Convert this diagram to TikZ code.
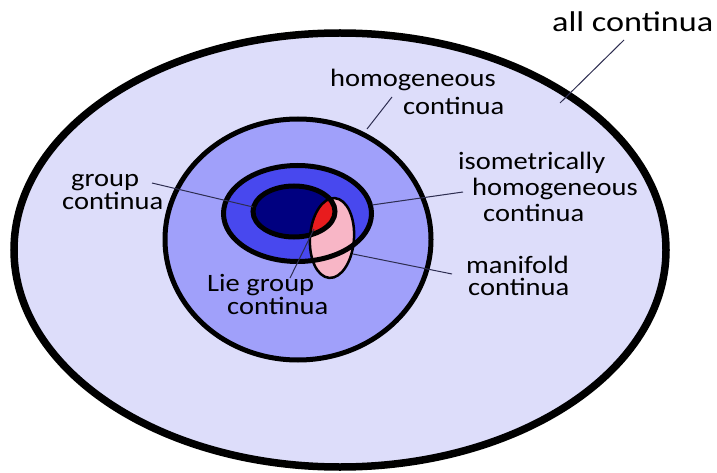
\documentclass[tikz,border=0pt]{standalone}
\usepackage{fontspec}
\setmainfont[FakeStretch=1.14]{Carlito}
\newfontfamily\bigfont[FakeStretch=1.2]{Carlito}
\definecolor{outerfill}{RGB}{221,221,250}
\definecolor{homfill}{RGB}{160,160,250}
\definecolor{isofill}{RGB}{72,72,238}
\definecolor{grpfill}{RGB}{0,0,128}
\definecolor{manfill}{RGB}{248,182,198}
\definecolor{liefill}{RGB}{232,28,30}
\definecolor{leadcol}{RGB}{45,45,80}
\tikzset{
  ring/.style={draw=black, line width=5pt},
  thinring/.style={draw=black, line width=2.5pt},
  lbl/.style={inner sep=0pt, align=left, text=black, font=\fontsize{25}{28}\selectfont},
  leader/.style={draw=leadcol, line width=1pt}
}
\begin{document}
\begin{tikzpicture}[x=1pt,y=-1pt]
\useasboundingbox (0,0) rectangle (717,473);
\fill[white] (0,0) rectangle (717,473);
% all continua
\path[fill=outerfill, draw=black, line width=7.5pt] (340,250) ellipse [x radius=326pt, y radius=217pt];
% fills
\fill[homfill] (298,239.5) ellipse [x radius=133pt, y radius=120.5pt];
\fill[isofill] (297.5,213.5) ellipse [x radius=74pt, y radius=48pt];
\fill[grpfill] (294,211.5) ellipse [x radius=41pt, y radius=25.5pt];
\fill[manfill, rotate around={-4:(332,238)}] (332,238) ellipse [x radius=22pt, y radius=40pt];
\begin{scope}
  \clip (294,211.5) ellipse [x radius=41pt, y radius=25.5pt];
  \fill[liefill, rotate around={-4:(332,238)}] (332,238) ellipse [x radius=22pt, y radius=40pt];
\end{scope}
% outlines
\path[ring] (298,239.5) ellipse [x radius=133pt, y radius=120.5pt];
\path[ring] (297.5,213.5) ellipse [x radius=74pt, y radius=48pt];
\path[ring] (294,211.5) ellipse [x radius=41pt, y radius=25.5pt];
\path[thinring, rotate around={-4:(332,238)}] (332,238) ellipse [x radius=22pt, y radius=40pt];
% labels (anchor = baseline of last line)
\node[lbl, anchor=base west, font=\bigfont\fontsize{28.5}{30}\selectfont] (lAll) at (552,32) {all continua};
\node[lbl, anchor=base west, font=\fontsize{25}{28}\selectfont] (lHom) at (330,115) {homogeneous\\\hspace*{73pt}continua};
\node[lbl, anchor=base west, font=\fontsize{25}{26}\selectfont] (lIso) at (458,222) {isometrically\\\hspace*{14pt}homogeneous\\\hspace*{25pt}continua};
\node[lbl, anchor=base west, font=\fontsize{25}{23}\selectfont] (lGrp) at (62,210) {\hspace*{9pt}group\\continua};
\node[lbl, anchor=base west, font=\fontsize{25}{19}\selectfont] (lLie) at (207,314) {Lie group\\\hspace*{20pt}continua};
\node[lbl, anchor=base west, font=\fontsize{25}{22}\selectfont] (lMan) at (466,295) {manifold\\\hspace*{2pt}continua};
% leader ends
\coordinate (aAll1) at (624,40);  \coordinate (aAll2) at (560,103);
\coordinate (aHom1) at (392,97);  \coordinate (aHom2) at (367,129);
\coordinate (aIso1) at (463,192); \coordinate (aIso2) at (372,205);
\coordinate (aGrp1) at (152,183); \coordinate (aGrp2) at (253,207);
\coordinate (aLie1) at (290,278); \coordinate (aLie2) at (314,229);
\coordinate (aMan1) at (452,274); \coordinate (aMan2) at (353,254);
\draw[leader] (aAll1) -- (aAll2);
\draw[leader] (aHom1) -- (aHom2);
\draw[leader] (aIso1) -- (aIso2);
\draw[leader] (aGrp1) -- (aGrp2);
\draw[leader] (aLie1) -- (aLie2);
\draw[leader] (aMan1) -- (aMan2);
\end{tikzpicture}
\end{document}
